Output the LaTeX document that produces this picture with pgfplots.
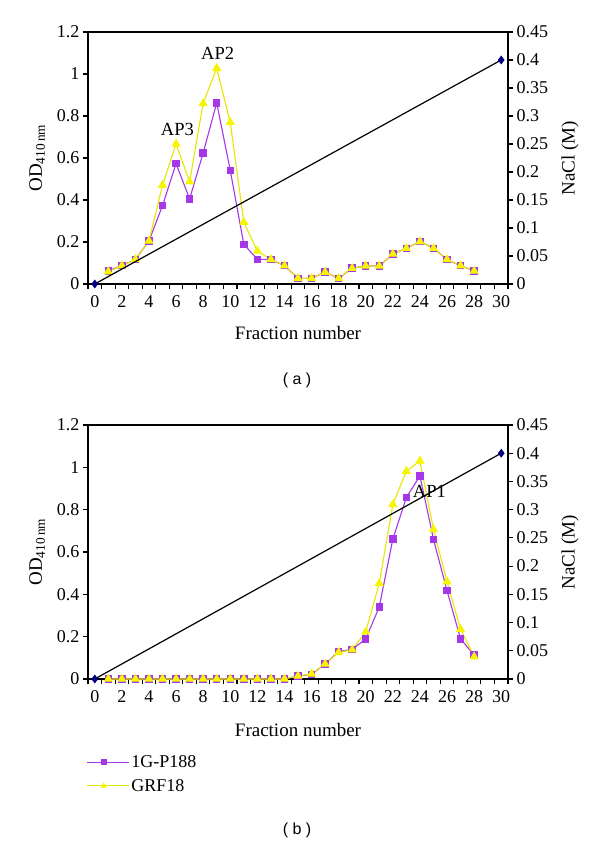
\documentclass[border=0pt]{standalone}
\usepackage{pgfplots}
\pgfplotsset{compat=1.18}
\usepackage{fontspec}
\setmainfont{Liberation Serif}
\newfontfamily\sansf{Liberation Sans}
\definecolor{ppl}{RGB}{165,55,230}
\definecolor{ylw}{RGB}{245,245,0}
\definecolor{ylwd}{RGB}{230,230,0}
\definecolor{navyd}{RGB}{0,0,128}

\pgfplotsset{
  base/.style={
    scale only axis, width=420pt,
    xmin=-0.5, xmax=30.5,
    /pgf/number format/assume math mode=true,
    tick label style={font=\fontsize{18}{20}\selectfont},
    tick align=outside, major tick length=5pt,
    axis line style={line width=1.1pt, -},
    every tick/.style={line width=1.1pt, black},
    anchor=south west, clip=false,
  },
  leftax/.style={base,
    ymin=0, ymax=1.2, ytick={0,0.2,0.4,0.6,0.8,1,1.2},
    yticklabels={0,0.2,0.4,0.6,0.8,1,1.2}, ytick pos=left,
    xtick={-0.5,0.5,...,30.5},
    xticklabels={0,,2,,4,,6,,8,,10,,12,,14,,16,,18,,20,,22,,24,,26,,28,,30,},
    xticklabel style={xshift=6.77pt, yshift=-3pt},
    xtick pos=bottom,
    xlabel={Fraction number},
    ylabel={OD\textsubscript{410\,nm}},
    every axis y label/.style={at={(axis description cs:-0.121,0.5)}, rotate=90, anchor=center,
      font=\fontsize{19}{22}\selectfont},
  },
  rightax/.style={base,
    ymin=0, ymax=0.45,
    ytick={0,0.05,0.1,0.15,0.2,0.25,0.3,0.35,0.4,0.45},
    yticklabels={0,0.05,0.1,0.15,0.2,0.25,0.3,0.35,0.4,0.45},
    axis y line*=right, axis x line=none,
    ylabel={NaCl (M)},
    every axis y label/.style={at={(axis description cs:1.148,0.5)}, rotate=90, anchor=center,
      font=\fontsize{19}{22}\selectfont},
  },
  pser/.style={color=ppl, line width=1.1pt, mark=square*, mark size=3.2pt, mark options={fill=ppl, draw=ppl}},
  yser/.style={color=ylwd, line width=1.1pt, mark=triangle*, mark size=4.3pt, mark options={fill=ylw, draw=ylw}},
  nacl/.style={color=black, line width=1.2pt, mark=diamond*, mark size=3.5pt, mark options={fill=navyd, draw=navyd}},
}

\begin{document}
\begin{tikzpicture}
\path[use as bounding box] (0pt,0pt) rectangle (600pt,848pt);

% ---------------- (a) ----------------
\begin{axis}[leftax, at={(88pt,564pt)}, height=252pt,
  every axis x label/.style={at={(axis description cs:0.5,-0.195)}, anchor=center, font=\fontsize{19}{22}\selectfont}]
\addplot[pser] coordinates {
(1,0.063)(2,0.087)(3,0.117)(4,0.205)(5,0.373)(6,0.573)(7,0.405)(8,0.624)(9,0.862)(10,0.541)
(11,0.189)(12,0.117)(13,0.117)(14,0.087)(15,0.027)(16,0.027)(17,0.056)(18,0.027)(19,0.075)(20,0.086)
(21,0.086)(22,0.143)(23,0.170)(24,0.202)(25,0.170)(26,0.117)(27,0.087)(28,0.062)};
\addplot[yser] coordinates {
(1,0.059)(2,0.087)(3,0.117)(4,0.205)(5,0.471)(6,0.667)(7,0.487)(8,0.860)(9,1.027)(10,0.770)
(11,0.294)(12,0.157)(13,0.117)(14,0.087)(15,0.027)(16,0.027)(17,0.056)(18,0.027)(19,0.075)(20,0.086)
(21,0.086)(22,0.143)(23,0.170)(24,0.202)(25,0.170)(26,0.117)(27,0.087)(28,0.062)};
\node[font=\fontsize{18.5}{20}\selectfont] at (axis cs:9.07,1.099) {AP2};
\node[font=\fontsize{18.5}{20}\selectfont] at (axis cs:6.1,0.737) {AP3};
\end{axis}
\begin{axis}[rightax, at={(88pt,564pt)}, height=252pt]
\addplot[nacl] coordinates {(0,0)(30,0.4)};
\end{axis}

% ---------------- (b) ----------------
\begin{axis}[leftax, at={(88pt,169pt)}, height=254pt,
  every axis x label/.style={at={(axis description cs:0.5,-0.2)}, anchor=center, font=\fontsize{19}{22}\selectfont},
  legend style={at={(axis description cs:-0.012,-0.285)}, anchor=north west, draw=none, fill=none,
    font=\fontsize{18}{20}\selectfont, row sep=6pt},
  legend cell align=left,
  legend image code/.code={
    \path (0pt,0pt) -- (42pt,0pt);
    \draw[#1, line width=1.1pt] (0pt,0pt) -- (34pt,0pt);
    \draw[#1, mark size=2.4pt] plot coordinates {(17pt,0pt)};
  }]
\addplot[pser] coordinates {
(1,0)(2,0)(3,0)(4,0)(5,0)(6,0)(7,0)(8,0)(9,0)(10,0)(11,0)(12,0)(13,0)(14,0)
(15,0.014)(16,0.022)(17,0.071)(18,0.130)(19,0.140)(20,0.189)(21,0.341)(22,0.661)(23,0.858)(24,0.959)
(25,0.660)(26,0.417)(27,0.189)(28,0.113)};
\addlegendentry{1G-P188}
\addplot[yser] coordinates {
(1,0)(2,0)(3,0)(4,0)(5,0)(6,0)(7,0)(8,0)(9,0)(10,0)(11,0)(12,0)(13,0)(14,0)
(15,0.014)(16,0.024)(17,0.071)(18,0.126)(19,0.138)(20,0.223)(21,0.452)(22,0.825)(23,0.982)(24,1.03)
(25,0.707)(26,0.460)(27,0.235)(28,0.105)};
\addlegendentry{GRF18}
\end{axis}
\begin{axis}[rightax, at={(88pt,169pt)}, height=254pt]
\addplot[nacl] coordinates {(0,0)(30,0.4)};
\node[font=\fontsize{18.5}{20}\selectfont] at (axis cs:24.7,0.333) {AP1};
\end{axis}

\node[font=\sansf\fontsize{16}{18}\selectfont] at (297pt,468pt) {( a )};
\node[font=\sansf\fontsize{16}{18}\selectfont] at (297pt,18pt) {( b )};
\end{tikzpicture}
\end{document}
